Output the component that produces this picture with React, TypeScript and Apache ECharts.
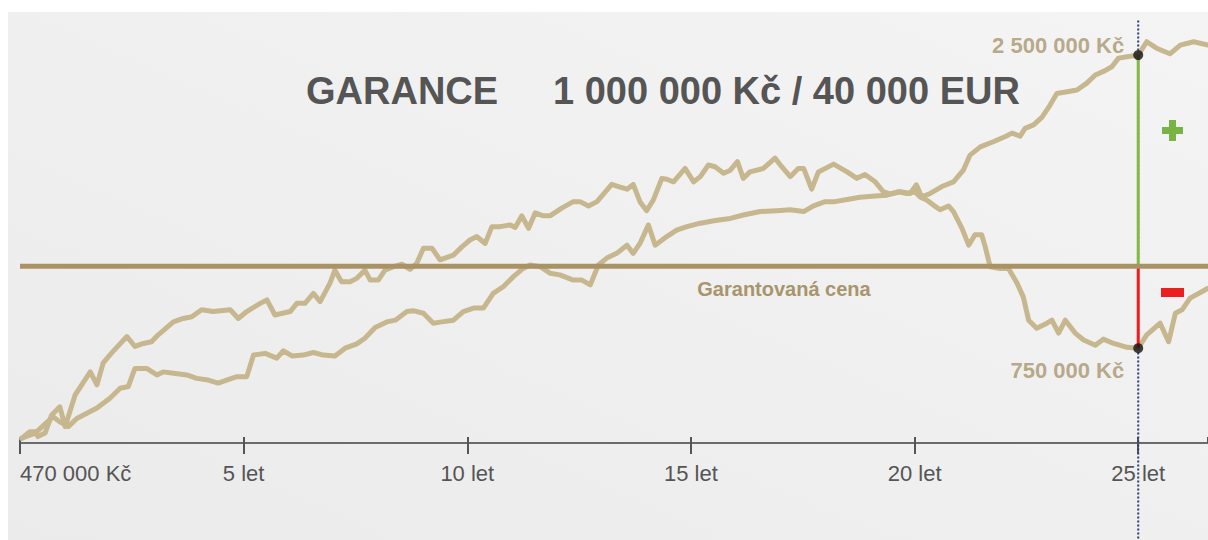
import React, { useEffect, useRef } from "react";
import * as echarts from "echarts";

// x axis: years; first tick shows the starting price
const xTickLabels = ["470 000 Kč", "5 let", "10 let", "15 let", "20 let", "25 let"];
const xMax = 26.56;

// relative value index (0 = starting price 470 000 Kč)
const guaranteeLevel = 41;
const guaranteeLabel = "Garantovaná cena";

// scenario A – ends at 2 500 000 Kč after 25 years
const aYears = [0.04, 0.34, 0.74, 0.89, 1.08, 1.27, 1.72, 2.01, 2.24, 2.42,
  2.57, 2.83, 3.06, 3.2, 3.43, 3.73, 3.95, 4.21, 4.43, 4.62,
  4.85, 5.07, 5.22, 5.48, 5.74, 5.89, 6.08, 6.33, 6.56, 6.78,
  7.04, 7.27, 7.53, 7.71, 7.94, 8.2, 8.39, 8.65, 8.79, 9.02,
  9.24, 9.43, 9.69, 9.91, 10.14, 10.36, 10.58, 10.81, 11.03, 11.25,
  11.4, 11.63, 11.85, 12.07, 12.37, 12.56, 12.75, 12.93, 13.12, 13.34,
  13.57, 13.71, 13.86, 14.05, 14.2, 14.46, 14.68, 14.91, 15.21, 15.58,
  15.88, 16.17, 16.55, 16.92, 17.22, 17.52, 17.74, 18.0, 18.22, 18.49,
  18.78, 19.12, 19.38, 19.68, 19.9, 20.04, 20.16, 20.35, 20.61, 20.87,
  21.09, 21.24, 21.47, 21.76, 22.03, 22.18, 22.36, 22.47, 22.66, 22.85,
  23.03, 23.18, 23.41, 23.63, 23.85, 24.04, 24.26, 24.41, 24.56, 24.75,
  25.0, 25.19, 25.41, 25.71, 25.94, 26.24, 26.56];
const aValues = [1.1, 2.3, 6.1, 4.9, 3.8, 5.7, 8.1, 10.4, 12.7, 13.1,
  17.3, 17.3, 15.8, 16.5, 16.2, 15.8, 15.0, 14.6, 13.9, 14.6,
  15.4, 15.4, 20.4, 20.8, 19.7, 21.4, 20.2, 20.4, 21.0, 20.4,
  20.2, 22.0, 23.0, 24.3, 26.8, 28.1, 28.5, 30.5, 30.7, 30.1,
  27.8, 28.1, 28.5, 30.5, 31.3, 31.3, 34.7, 36.3, 38.6, 40.5,
  41.3, 40.9, 39.4, 39.0, 37.8, 37.8, 36.7, 41.3, 42.9, 44.0,
  45.9, 44.0, 46.3, 50.6, 45.9, 47.9, 49.4, 50.2, 51.0, 51.7,
  52.1, 52.9, 53.7, 53.9, 54.1, 53.7, 55.0, 56.0, 56.0, 56.5,
  57.0, 57.3, 57.5, 58.3, 57.9, 59.9, 57.1, 57.9, 59.5, 60.6,
  63.3, 66.8, 68.7, 69.9, 71.1, 71.9, 71.2, 73.0, 73.8, 75.6,
  78.4, 81.1, 81.5, 81.9, 83.5, 85.4, 86.4, 87.3, 89.3, 89.6,
  90.0, 93.1, 91.6, 90.3, 92.3, 93.1, 92.3];

// scenario B – ends at 750 000 Kč after 25 years
const bYears = [0.04, 0.22, 0.34, 0.4, 0.56, 0.71, 0.89, 1.01, 1.23, 1.38,
  1.57, 1.72, 1.86, 2.05, 2.39, 2.57, 2.76, 2.94, 3.09, 3.43,
  3.65, 3.84, 4.06, 4.32, 4.7, 4.88, 5.07, 5.37, 5.52, 5.7,
  6.04, 6.19, 6.37, 6.56, 6.71, 6.93, 7.04, 7.19, 7.38, 7.53,
  7.71, 7.83, 8.01, 8.16, 8.35, 8.54, 8.72, 8.87, 9.02, 9.21,
  9.39, 9.69, 9.88, 10.06, 10.21, 10.4, 10.55, 10.73, 10.96, 11.07,
  11.22, 11.37, 11.52, 11.7, 11.85, 12.11, 12.37, 12.52, 12.71, 12.9,
  13.23, 13.38, 13.57, 13.71, 13.86, 14.01, 14.16, 14.35, 14.46, 14.61,
  14.87, 15.06, 15.21, 15.39, 15.54, 15.73, 15.88, 16.04, 16.17, 16.32,
  16.62, 16.88, 17.03, 17.22, 17.4, 17.52, 17.7, 17.85, 18.19, 18.49,
  18.71, 18.89, 19.12, 19.3, 19.45, 19.64, 19.83, 20.01, 20.12, 20.27,
  20.42, 20.57, 20.76, 20.87, 21.06, 21.21, 21.35, 21.5, 21.58, 21.69,
  21.91, 22.1, 22.29, 22.43, 22.55, 22.73, 22.96, 23.07, 23.22, 23.37,
  23.59, 23.78, 24.04, 24.22, 24.45, 24.75, 25.0, 25.19, 25.49, 25.68,
  25.83, 25.98, 26.16, 26.56];
const bValues = [1.1, 2.6, 2.6, 1.5, 2.3, 6.5, 8.4, 3.8, 11.1, 13.5,
  16.5, 13.5, 18.6, 20.9, 24.7, 22.4, 23.1, 23.5, 25.1, 28.1,
  28.9, 29.3, 30.9, 30.5, 30.9, 28.9, 30.5, 32.4, 33.2, 29.7,
  30.5, 32.4, 32.4, 34.7, 32.8, 37.1, 40.1, 37.4, 37.4, 38.2,
  40.1, 37.8, 37.8, 40.1, 40.9, 41.5, 40.3, 41.7, 45.2, 45.2,
  42.5, 43.6, 45.5, 47.1, 47.9, 46.3, 50.2, 50.2, 50.6, 50.0,
  52.7, 49.8, 53.4, 52.7, 52.7, 54.5, 56.0, 56.0, 55.0, 56.0,
  60.0, 59.5, 58.9, 60.0, 56.0, 53.9, 56.4, 61.4, 61.2, 60.6,
  63.7, 60.6, 61.8, 64.5, 64.1, 62.6, 63.3, 65.3, 61.4, 62.9,
  63.7, 66.1, 64.1, 61.8, 63.7, 63.7, 58.9, 62.9, 64.7, 62.9,
  61.4, 62.3, 60.6, 58.3, 57.8, 58.3, 57.9, 58.3, 57.1, 56.4,
  55.2, 54.1, 55.0, 53.7, 49.8, 45.9, 48.3, 48.3, 45.5, 40.9,
  40.5, 40.5, 37.1, 33.9, 28.5, 26.6, 27.8, 28.5, 25.5, 28.5,
  25.5, 23.9, 22.7, 24.1, 23.1, 22.2, 22.0, 25.1, 27.8, 23.5,
  30.1, 30.9, 33.6, 35.9];

// results at the 25-year mark
const markYear = 25;
const endValues = [90.0, 22.0];
const endLabels = ["2 500 000 Kč", "750 000 Kč"];
// extent of the dotted marker line
const markerTop = 98;
const markerBottom = -22.5;

const FONT = "'Liberation Sans', Arial, Helvetica, sans-serif";
const LINE = "#c7b78f";
const GOLD = "#a99366";
const LABEL_GOLD = "#a8956c";

export default function App() {
  const ref = useRef<HTMLDivElement>(null);

  useEffect(() => {
    if (!ref.current) return;
    const chart = echarts.init(ref.current, null, { renderer: "svg" });

    const zip = (xs: number[], ys: number[]) => xs.map((x, i) => [x, ys[i]]);

    const xBase = {
      type: "value",
      min: 0,
      max: xMax,
      interval: 5,
      position: "bottom",
      offset: 0,
      splitLine: { show: false },
    };

    chart.setOption({
      animation: false,
      backgroundColor: new echarts.graphic.LinearGradient(1, 0, 0, 1, [
        { offset: 0, color: "#f4f4f4" },
        { offset: 1, color: "#ebebeb" },
      ]),
      grid: {
        left: 12,
        right: 0,
        top: 0,
        bottom: 97,
        containLabel: false,
        outerBoundsMode: "none",
      },
      xAxis: [
        {
          ...xBase,
          axisLine: { show: true, onZero: false, lineStyle: { color: "#6b6b6b", width: 2 } },
          axisTick: { show: true, inside: false, length: 11, lineStyle: { color: "#555", width: 2 } },
          axisLabel: {
            show: true,
            margin: 19,
            color: "#555",
            fontSize: 22,
            fontFamily: FONT,
            alignMinLabel: "left",
            showMaxLabel: false,
            formatter: (v: number) => {
              const i = Math.round(v / 5);
              return xTickLabels[i] ?? "";
            },
          },
        },
        {
          ...xBase,
          axisLine: { show: true, onZero: false, lineStyle: { color: "#6b6b6b", width: 2 } },
          axisTick: { show: true, inside: true, length: 6, lineStyle: { color: "#555", width: 2 } },
          axisLabel: { show: false },
        },
      ],
      yAxis: {
        type: "value",
        min: 0,
        max: 100,
        show: false,
        splitLine: { show: false },
      },
      series: [
        {
          type: "line",
          data: [[markYear, markerTop], [markYear, markerBottom]],
          symbol: "none",
          silent: true,
          clip: false,
          z: 1,
          lineStyle: { color: "#2c3d78", width: 2, type: [2, 2] },
        },
        {
          type: "line",
          data: zip(aYears, aValues),
          symbol: "none",
          z: 2,
          lineStyle: { color: LINE, width: 5, join: "round", cap: "round" },
        },
        {
          type: "line",
          data: zip(bYears, bValues),
          symbol: "none",
          z: 2,
          lineStyle: { color: LINE, width: 5, join: "round", cap: "round" },
        },
        {
          type: "line",
          data: [[markYear, guaranteeLevel], [markYear, endValues[0]]],
          symbol: "none",
          z: 3,
          lineStyle: { color: "#80bb45", width: 3 },
        },
        {
          type: "line",
          data: [[markYear, guaranteeLevel], [markYear, endValues[1]]],
          symbol: "none",
          z: 3,
          lineStyle: { color: "#ee1c1c", width: 3 },
        },
        {
          type: "line",
          data: [[0, guaranteeLevel], [xMax, guaranteeLevel]],
          symbol: "none",
          z: 4,
          lineStyle: { color: GOLD, width: 5 },
        },
        {
          type: "scatter",
          data: endValues.map((v) => [markYear, v]),
          symbolSize: 10,
          z: 5,
          itemStyle: { color: "#111" },
          label: {
            show: true,
            position: "left",
            distance: 9,
            color: LABEL_GOLD,
            fontSize: 22,
            fontWeight: "bold",
            fontFamily: FONT,
            formatter: (p: any) => endLabels[p.dataIndex],
          },
          labelLayout: (p: any) => ({ dy: p.dataIndex === 0 ? -10 : 22 }),
        },
      ],
      graphic: [
        {
          type: "text",
          x: 298,
          y: 79,
          style: {
            text: "GARANCE",
            font: `bold 38px ${FONT}`,
            fill: "#555",
            align: "left",
            verticalAlign: "middle",
          },
        },
        {
          type: "text",
          x: 545,
          y: 79,
          style: {
            text: "1 000 000 Kč / 40 000 EUR",
            font: `bold 38px ${FONT}`,
            fill: "#555",
            align: "left",
            verticalAlign: "middle",
          },
        },
        {
          type: "text",
          x: 776,
          y: 277,
          style: {
            text: guaranteeLabel,
            font: `bold 20px ${FONT}`,
            fill: LABEL_GOLD,
            align: "center",
            verticalAlign: "middle",
          },
        },
        { type: "rect", shape: { x: 1154, y: 115, width: 21, height: 7 }, style: { fill: "#78b445" } },
        { type: "rect", shape: { x: 1161, y: 108, width: 7, height: 21 }, style: { fill: "#78b445" } },
        { type: "rect", shape: { x: 1153, y: 276, width: 23, height: 9 }, style: { fill: "#ea2020" } },
      ],
    });

    return () => chart.dispose();
  }, []);

  return (
    <div
      ref={ref}
      style={{ position: "absolute", left: 8, top: 12, width: 1200, height: 528 }}
    />
  );
}
